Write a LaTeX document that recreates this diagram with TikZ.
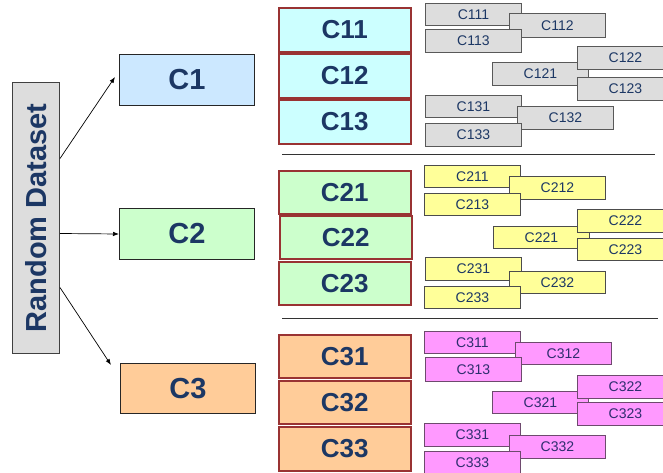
\documentclass[tikz,border=0pt]{standalone}
\usepackage{fontspec}
\setmainfont{Liberation Sans}
\usetikzlibrary{arrows.meta}

\definecolor{navy}{HTML}{1C3764}
\definecolor{violettext}{HTML}{2E2E6E}
\definecolor{topblue}{HTML}{CCE8FF}
\definecolor{subcyan}{HTML}{CCFFFF}
\definecolor{subgreen}{HTML}{CCFFCC}
\definecolor{subpeach}{HTML}{FFCC99}
\definecolor{leafgray}{HTML}{DDDDDD}
\definecolor{leafyellow}{HTML}{FFFF99}
\definecolor{leafpink}{HTML}{FF99FF}
\definecolor{redframe}{HTML}{993333}
\definecolor{pinkframe}{HTML}{6E4A6E}

\tikzset{
  base/.style={anchor=north west, inner sep=0pt, text=navy},
  rootbox/.style={base, draw=black!75, fill=leafgray, line width=1pt,
    minimum width=47pt, minimum height=271pt},
  topbox/.style={base, draw=black!85, line width=1pt,
    minimum width=135pt, minimum height=51pt,
    font=\fontsize{29}{29}\selectfont\bfseries},
  midbox/.style={base, draw=redframe, line width=1.6pt,
    minimum width=132pt, minimum height=44pt,
    font=\fontsize{26}{26}\selectfont\bfseries},
  leaf/.style={base, line width=0.9pt, minimum width=96pt, minimum height=23pt,
    font=\fontsize{14}{14}\selectfont},
  grayleaf/.style={leaf, draw=black!65, fill=leafgray},
  yellowleaf/.style={leaf, draw=black!70, fill=leafyellow},
  pinkleaf/.style={leaf, draw=pinkframe, fill=leafpink, text=violettext},
  link/.style={draw=black, line width=0.7pt, -{Latex[length=6pt,width=4.5pt]}},
  rule/.style={draw=black!80, line width=1pt}
}

\begin{document}
\begin{tikzpicture}[x=1pt, y=-1pt]
\useasboundingbox (0,0) rectangle (663,473);

% root node
\node[rootbox] (rd) at (12,82) {};
\node[rotate=90, text=navy, font=\fontsize{29}{29}\selectfont\bfseries] (rdlabel) at (rd.center) {Random Dataset};

% first level
\node[topbox, fill=topblue] (c1) at (119,54) {C1};
\node[topbox, fill=subgreen] (c2) at (119,208) {C2};
\node[topbox, fill=subpeach, minimum height=50pt] (c3) at (120,363) {C3};

\draw[link] ([yshift=59.5pt]rd.east) -- ([xshift=-4pt,yshift=3pt]c1.west);
\draw[link] ([yshift=-15.5pt]rd.east) -- (c2.west);
\draw[link] ([yshift=-69.5pt]rd.east) -- ([xshift=-9pt,yshift=-2pt]c3.north west);

% second level
\node[midbox, fill=subcyan] (c11) at (278,7) {C11};
\node[midbox, fill=subcyan] (c12) at (278,53) {C12};
\node[midbox, fill=subcyan] (c13) at (278,99) {C13};

\node[midbox, fill=subgreen, minimum height=43pt] (c21) at (278,170) {C21};
\node[midbox, fill=subgreen, minimum height=43pt] (c22) at (279,215) {C22};
\node[midbox, fill=subgreen, minimum height=43pt] (c23) at (278,261) {C23};

\node[midbox, fill=subpeach, minimum height=43pt] (c31) at (278,334) {C31};
\node[midbox, fill=subpeach, minimum height=43pt] (c32) at (278,380) {C32};
\node[midbox, fill=subpeach] (c33) at (278,426) {C33};

% separators between the groups
\coordinate (s1a) at (282,155);
\coordinate (s1b) at (655,155);
\coordinate (s2a) at (282,318);
\coordinate (s2b) at (658,318);
\draw[rule] (s1a) -- (s1b);
\draw[rule] (s2a) -- (s2b);

% third level, group 1
\node[grayleaf, minimum height=22pt] (c111) at (425,3) {C111};
\node[grayleaf, minimum height=24pt] (c112) at (509,13) {C112};
\node[grayleaf] (c113) at (425,29) {C113};
\node[grayleaf] (c121) at (492,62) {C121};
\node[grayleaf] (c122) at (577,46) {C122};
\node[grayleaf] (c123) at (577,77) {C123};
\node[grayleaf, minimum height=22pt] (c131) at (425,95) {C131};
\node[grayleaf] (c132) at (517,106) {C132};
\node[grayleaf] (c133) at (425,123) {C133};

% third level, group 2
\node[yellowleaf, minimum height=22pt] (c211) at (424,165) {C211};
\node[yellowleaf] (c212) at (509,176) {C212};
\node[yellowleaf, minimum height=22pt] (c213) at (424,193) {C213};
\node[yellowleaf, minimum height=22pt] (c221) at (493,226) {C221};
\node[yellowleaf] (c222) at (577,209) {C222};
\node[yellowleaf, minimum height=22pt] (c223) at (577,238) {C223};
\node[yellowleaf] (c231) at (425,257) {C231};
\node[yellowleaf, minimum height=22pt] (c232) at (509,271) {C232};
\node[yellowleaf, minimum height=22pt] (c233) at (424,286) {C233};

% third level, group 3
\node[pinkleaf, minimum height=22pt] (c311) at (424,331) {C311};
\node[pinkleaf, minimum height=22pt] (c312) at (515,342) {C312};
\node[pinkleaf, minimum height=24pt] (c313) at (425,357) {C313};
\node[pinkleaf, minimum height=22pt] (c321) at (492,391) {C321};
\node[pinkleaf] (c322) at (577,375) {C322};
\node[pinkleaf] (c323) at (577,402) {C323};
\node[pinkleaf] (c331) at (424,423) {C331};
\node[pinkleaf] (c332) at (509,435) {C332};
\node[pinkleaf] (c333) at (424,451) {C333};
\end{tikzpicture}
\end{document}
